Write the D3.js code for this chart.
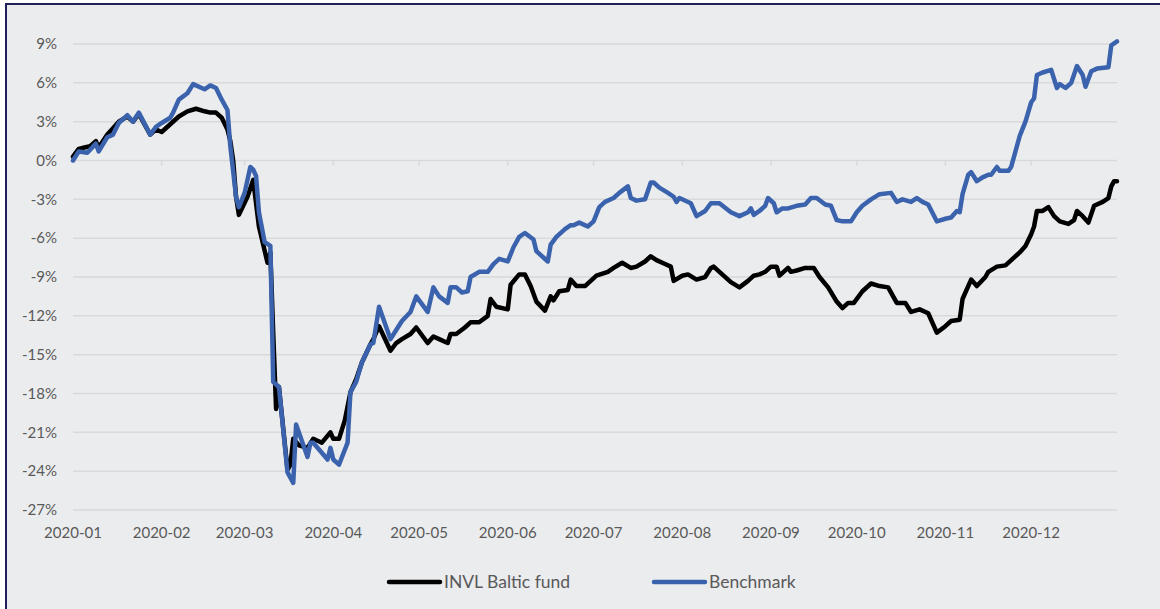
<!DOCTYPE html>
<meta charset="utf-8">
<style>
body { margin: 0; background: #fff; }
text { font-family: Lato, "Open Sans", sans-serif; fill: #595959; }
.grid line { stroke: #d9d9d9; stroke-width: 1.5px; }
.line { fill: none; stroke-width: 4.5px; stroke-linejoin: round; stroke-linecap: round; }
</style>
<body>
<script src="https://cdn.jsdelivr.net/npm/d3@7"></script>
<script>

// data (cumulative return, %)
var fundDates = ["2020-01-01","2020-01-03","2020-01-05","2020-01-07","2020-01-09","2020-01-10","2020-01-13","2020-01-15","2020-01-17","2020-01-20","2020-01-22","2020-01-24","2020-01-28","2020-01-30",
  "2020-02-01","2020-02-04","2020-02-07","2020-02-10","2020-02-13","2020-02-16","2020-02-18","2020-02-20","2020-02-22","2020-02-24","2020-02-25","2020-02-26","2020-02-27","2020-02-28",
  "2020-03-02","2020-03-04","2020-03-06","2020-03-09","2020-03-10","2020-03-11","2020-03-12","2020-03-13","2020-03-16","2020-03-17","2020-03-18","2020-03-20","2020-03-23","2020-03-25","2020-03-28","2020-03-31",
  "2020-04-01","2020-04-03","2020-04-05","2020-04-07","2020-04-09","2020-04-11","2020-04-14","2020-04-15","2020-04-17","2020-04-21","2020-04-23","2020-04-25","2020-04-28","2020-04-30",
  "2020-05-04","2020-05-06","2020-05-08","2020-05-11","2020-05-12","2020-05-14","2020-05-17","2020-05-19","2020-05-22","2020-05-25","2020-05-26","2020-05-28",
  "2020-06-01","2020-06-02","2020-06-05","2020-06-07","2020-06-09","2020-06-11","2020-06-14","2020-06-16","2020-06-17","2020-06-19","2020-06-22","2020-06-23","2020-06-25","2020-06-28",
  "2020-07-02","2020-07-06","2020-07-08","2020-07-11","2020-07-14","2020-07-16","2020-07-19","2020-07-21","2020-07-23","2020-07-26","2020-07-28","2020-07-29",
  "2020-08-01","2020-08-03","2020-08-06","2020-08-09","2020-08-11","2020-08-12","2020-08-14","2020-08-18","2020-08-21","2020-08-24","2020-08-26","2020-08-28","2020-08-30",
  "2020-09-01","2020-09-03","2020-09-04","2020-09-07","2020-09-08","2020-09-10","2020-09-13","2020-09-16","2020-09-18","2020-09-21","2020-09-24","2020-09-26","2020-09-28","2020-09-30",
  "2020-10-03","2020-10-06","2020-10-09","2020-10-12","2020-10-15","2020-10-18","2020-10-20","2020-10-23","2020-10-26","2020-10-27","2020-10-29",
  "2020-11-01","2020-11-03","2020-11-06","2020-11-07","2020-11-10","2020-11-12","2020-11-15","2020-11-16","2020-11-19","2020-11-22","2020-11-26","2020-11-27","2020-11-29",
  "2020-12-01","2020-12-02","2020-12-03","2020-12-05","2020-12-07","2020-12-09","2020-12-11","2020-12-14","2020-12-16","2020-12-17","2020-12-19","2020-12-21","2020-12-23","2020-12-26","2020-12-28","2020-12-29","2020-12-30","2020-12-31"];
var fundValues = [0.3,0.9,1.0,1.1,1.5,1.0,2.0,2.5,3.0,3.4,3.0,3.6,2.0,2.4,
  2.2,2.8,3.4,3.8,4.0,3.8,3.7,3.7,3.3,2.4,1.5,0.0,-2.8,-4.2,
  -2.8,-1.5,-5.1,-7.9,-7.1,-13.3,-19.2,-17.5,-23.9,-23.5,-21.5,-22.0,-22.2,-21.5,-21.8,-21.0,
  -21.5,-21.5,-20.1,-17.9,-16.9,-15.6,-14.2,-13.8,-12.8,-14.7,-14.1,-13.8,-13.4,-12.9,
  -14.1,-13.6,-13.8,-14.1,-13.4,-13.4,-12.9,-12.5,-12.5,-12.0,-10.7,-11.3,
  -11.5,-9.6,-8.8,-8.8,-9.7,-10.9,-11.6,-10.5,-10.8,-10.1,-10.0,-9.2,-9.7,-9.7,
  -8.9,-8.6,-8.3,-7.9,-8.3,-8.2,-7.8,-7.4,-7.7,-8.0,-8.2,-9.3,
  -8.9,-8.8,-9.2,-9.0,-8.3,-8.2,-8.6,-9.4,-9.8,-9.3,-8.9,-8.8,-8.6,
  -8.2,-8.2,-8.9,-8.3,-8.6,-8.5,-8.3,-8.3,-9.0,-9.8,-10.9,-11.4,-11.0,-11.0,
  -10.1,-9.5,-9.7,-9.8,-11.0,-11.0,-11.7,-11.5,-11.8,-12.3,-13.3,
  -12.8,-12.4,-12.3,-10.7,-9.2,-9.7,-9.0,-8.6,-8.2,-8.1,-7.3,-7.1,-6.6,
  -5.7,-5.1,-3.9,-3.9,-3.6,-4.3,-4.7,-4.9,-4.6,-3.9,-4.3,-4.8,-3.5,-3.2,-2.9,-2.0,-1.6,-1.6];

var benchDates = ["2020-01-01","2020-01-03","2020-01-06","2020-01-09","2020-01-10","2020-01-13","2020-01-15","2020-01-17","2020-01-20","2020-01-22","2020-01-24","2020-01-28","2020-01-30",
  "2020-02-01","2020-02-04","2020-02-05","2020-02-07","2020-02-10","2020-02-12","2020-02-15","2020-02-16","2020-02-18","2020-02-20","2020-02-22","2020-02-24","2020-02-25","2020-02-27","2020-02-28",
  "2020-03-01","2020-03-03","2020-03-04","2020-03-05","2020-03-06","2020-03-08","2020-03-10","2020-03-11","2020-03-13","2020-03-16","2020-03-18","2020-03-19","2020-03-23","2020-03-24","2020-03-25","2020-03-30","2020-03-31",
  "2020-04-01","2020-04-03","2020-04-06","2020-04-07","2020-04-09","2020-04-11","2020-04-14","2020-04-15","2020-04-17","2020-04-21","2020-04-23","2020-04-25","2020-04-28","2020-04-30",
  "2020-05-04","2020-05-06","2020-05-08","2020-05-11","2020-05-12","2020-05-14","2020-05-16","2020-05-18","2020-05-19","2020-05-22","2020-05-25","2020-05-27","2020-05-29",
  "2020-06-01","2020-06-03","2020-06-05","2020-06-07","2020-06-10","2020-06-11","2020-06-15","2020-06-16","2020-06-18","2020-06-21","2020-06-23","2020-06-24","2020-06-26","2020-06-29",
  "2020-07-01","2020-07-03","2020-07-05","2020-07-08","2020-07-10","2020-07-13","2020-07-14","2020-07-16","2020-07-19","2020-07-21","2020-07-22","2020-07-24","2020-07-27","2020-07-29","2020-07-30","2020-07-31",
  "2020-08-04","2020-08-06","2020-08-09","2020-08-11","2020-08-14","2020-08-18","2020-08-21","2020-08-24","2020-08-25","2020-08-26","2020-08-28","2020-08-30","2020-08-31",
  "2020-09-02","2020-09-03","2020-09-05","2020-09-07","2020-09-10","2020-09-13","2020-09-15","2020-09-17","2020-09-20","2020-09-22","2020-09-24","2020-09-26","2020-09-29",
  "2020-10-01","2020-10-03","2020-10-06","2020-10-09","2020-10-13","2020-10-15","2020-10-17","2020-10-20","2020-10-22","2020-10-24","2020-10-26","2020-10-29",
  "2020-11-01","2020-11-03","2020-11-05","2020-11-06","2020-11-07","2020-11-09","2020-11-10","2020-11-12","2020-11-14","2020-11-16","2020-11-17","2020-11-19","2020-11-20","2020-11-23","2020-11-24","2020-11-26","2020-11-27","2020-11-29",
  "2020-12-01","2020-12-02","2020-12-03","2020-12-05","2020-12-08","2020-12-09","2020-12-10","2020-12-11","2020-12-13","2020-12-15","2020-12-17","2020-12-19","2020-12-20","2020-12-22","2020-12-24","2020-12-28","2020-12-29","2020-12-31"];
var benchValues = [0.0,0.7,0.6,1.3,0.7,1.8,2.0,2.9,3.5,3.0,3.7,2.0,2.6,
  2.9,3.3,3.7,4.7,5.2,5.9,5.6,5.5,5.8,5.6,4.7,3.9,1.1,-2.8,-3.6,
  -2.5,-0.5,-0.7,-1.2,-4.0,-6.3,-6.6,-17.1,-17.5,-24.1,-24.9,-20.4,-22.9,-21.8,-21.8,-23.1,-22.2,
  -23.1,-23.5,-21.8,-17.9,-17.1,-15.6,-14.2,-14.1,-11.3,-13.8,-13.1,-12.4,-11.7,-10.5,
  -11.7,-9.8,-10.5,-11.0,-9.8,-9.8,-10.2,-10.1,-9.0,-8.6,-8.6,-8.0,-7.6,
  -7.8,-6.7,-5.9,-5.6,-6.1,-7.0,-7.8,-6.5,-5.9,-5.3,-5.0,-5.0,-4.8,-5.1,
  -4.7,-3.6,-3.2,-2.9,-2.5,-2.0,-2.9,-3.1,-3.0,-1.7,-1.7,-2.1,-2.5,-2.8,-3.2,-2.9,
  -3.3,-4.3,-3.9,-3.3,-3.3,-4.0,-4.3,-4.0,-3.7,-4.2,-3.9,-3.5,-2.9,
  -3.3,-4.0,-3.7,-3.7,-3.5,-3.4,-2.9,-2.9,-3.4,-3.5,-4.6,-4.7,-4.7,
  -4.0,-3.5,-3.0,-2.6,-2.5,-3.2,-3.0,-3.2,-2.9,-3.2,-3.4,-4.7,
  -4.5,-4.4,-3.9,-4.0,-2.6,-1.1,-0.9,-1.6,-1.3,-1.1,-1.1,-0.5,-0.8,-0.8,-0.5,1.1,1.9,3.0,
  4.5,4.8,6.6,6.8,7.0,6.3,5.6,5.9,5.6,6.0,7.3,6.6,5.7,6.9,7.1,7.2,8.9,9.2];

var yTicks = [9,6,3,0,-3,-6,-9,-12,-15,-18,-21,-24,-27];
var monthLabels = ["2020-01","2020-02","2020-03","2020-04","2020-05","2020-06","2020-07","2020-08","2020-09","2020-10","2020-11","2020-12"];
var seriesNames = ["INVL Baltic fund","Benchmark"];
var seriesColors = ["#000000","#3b63ad"];

var W = 1160, H = 609;
var parse = d3.timeParse("%Y-%m-%d");
var parseMonth = d3.timeParse("%Y-%m");

var svg = d3.select("body").append("svg")
  .attr("width", W).attr("height", H);

// background + frame
svg.append("rect").attr("x", 0).attr("y", 0).attr("width", W).attr("height", H).attr("fill", "#fff");
svg.append("rect").attr("x", 6).attr("y", 4).attr("width", W + 20).attr("height", H + 20)
  .attr("fill", "#ebecee").attr("stroke", "#1f1f5c").attr("stroke-width", 2);

var x = d3.scaleTime()
  .domain([parse("2020-01-01"), parse("2020-12-31")])
  .range([73, 1117]);
var y = d3.scaleLinear().domain([-27, 9]).range([510, 44]);

// horizontal gridlines
svg.append("g").attr("class", "grid")
  .selectAll("line").data(yTicks).enter().append("line")
  .attr("x1", x.range()[0]).attr("x2", x.range()[1])
  .attr("y1", function(d) { return y(d); }).attr("y2", function(d) { return y(d); });

// y labels
svg.append("g").selectAll("text").data(yTicks).enter().append("text")
  .attr("x", 57).attr("y", function(d) { return y(d); })
  .attr("dy", "0.35em").attr("text-anchor", "end")
  .style("font-size", "15px")
  .text(function(d) { return d + "%"; });

// month tick marks on the 0% line
var monthDates = monthLabels.map(function(m) { return parseMonth(m); });
svg.append("g").selectAll("line").data(monthDates.slice(1)).enter().append("line")
  .attr("x1", function(d) { return x(d); }).attr("x2", function(d) { return x(d); })
  .attr("y1", y(0)).attr("y2", y(0) + 5)
  .attr("stroke", "#d9d9d9").attr("stroke-width", 1.5);

// month labels
svg.append("g").selectAll("text").data(monthLabels).enter().append("text")
  .attr("x", function(d) { return x(parseMonth(d)); })
  .attr("y", 533).attr("dy", "0.35em").attr("text-anchor", "middle")
  .style("font-size", "15px")
  .text(function(d) { return d; });

var line = d3.line()
  .x(function(d) { return x(d.date); })
  .y(function(d) { return y(d.value); });

function zipSeries(dates, values) {
  return dates.map(function(d, i) { return {date: parse(d), value: values[i]}; });
}

var fund = zipSeries(fundDates, fundValues);
var bench = zipSeries(benchDates, benchValues);

svg.append("path").datum(fund).attr("class", "line")
  .attr("stroke", seriesColors[0]).attr("d", line);
svg.append("path").datum(bench).attr("class", "line")
  .attr("stroke", seriesColors[1]).attr("d", line);

// legend
var legendX = [389, 654];
var legend = svg.selectAll(".legend").data(seriesNames).enter().append("g")
  .attr("class", "legend")
  .attr("transform", function(d, i) { return "translate(" + legendX[i] + ",582)"; });
legend.append("line")
  .attr("x1", 0).attr("x2", 51).attr("y1", 0).attr("y2", 0)
  .attr("stroke", function(d, i) { return seriesColors[i]; })
  .attr("stroke-width", 4.5).attr("stroke-linecap", "round");
legend.append("text")
  .attr("x", 55).attr("dy", "0.35em")
  .style("font-size", "17.5px")
  .text(function(d) { return d; });

</script>
</body>
